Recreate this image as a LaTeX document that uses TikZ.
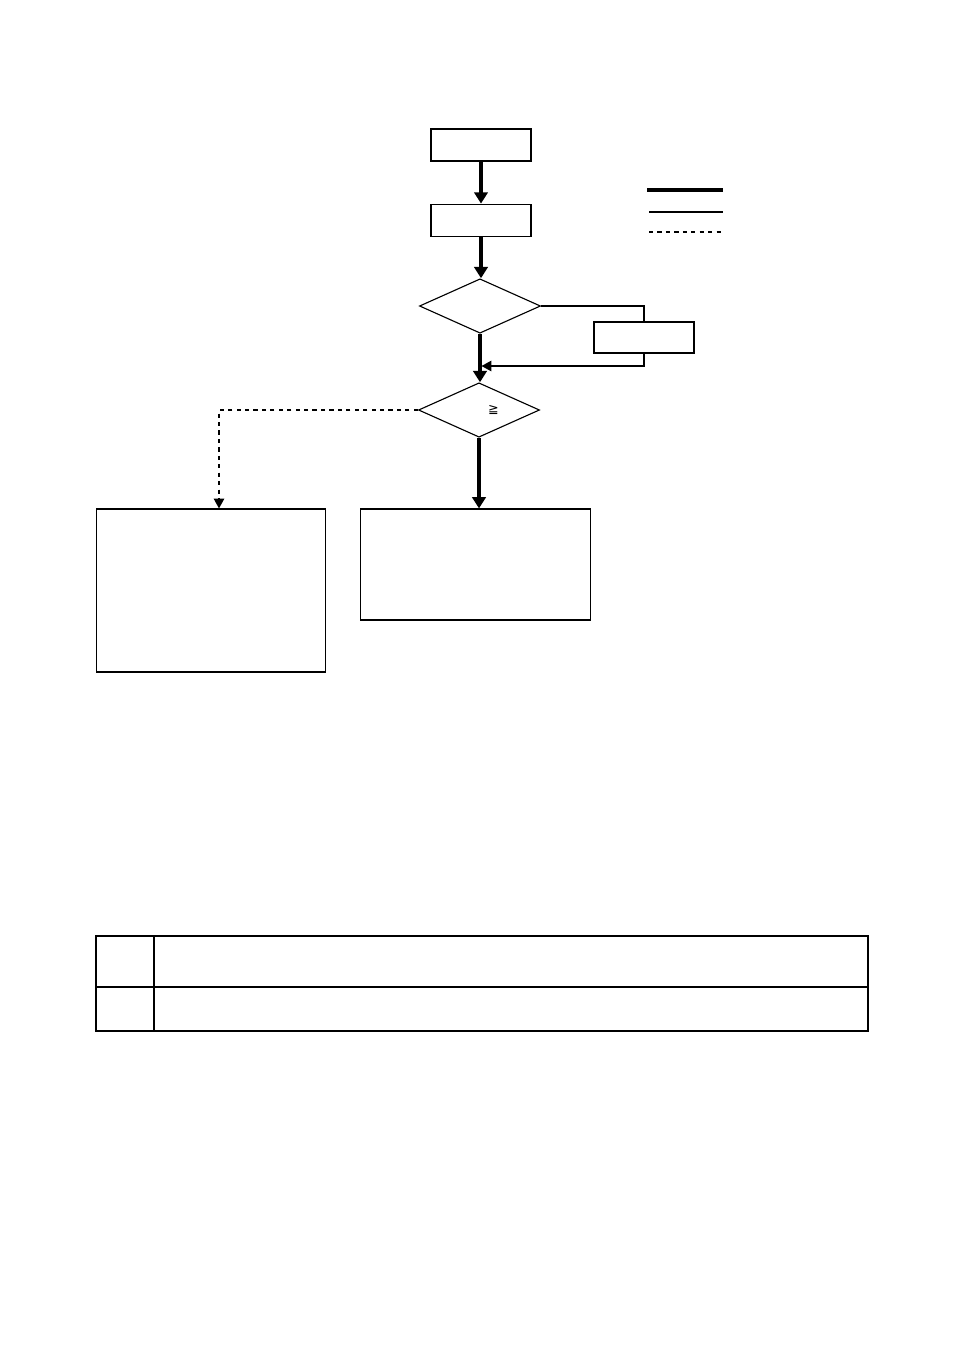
\documentclass[tikz,border=0pt]{standalone}
\usepackage{fontspec}
\newfontfamily\symfont{DejaVu Sans}
\usepackage{tikz}
\usetikzlibrary{positioning,arrows.meta,shapes.geometric}

\begin{document}
\begin{tikzpicture}[
  x=0.025cm, y=-0.025cm,
  node distance=1.05cm,
  stepbox/.style={rectangle, draw=black, line width=0.8pt, minimum width=2.5cm, minimum height=0.8cm, inner sep=0pt},
  decide/.style={diamond, draw=black, line width=0.8pt, minimum width=3.025cm, minimum height=1.36cm, inner sep=0pt},
  bigbox/.style={rectangle, draw=black, line width=0.8pt, minimum width=5.73cm, inner sep=0pt},
  mainarr/.style={-{Triangle[length=8pt, width=9.5pt]}, line width=2.2pt, draw=black},
  subarr/.style={-{Triangle[length=7pt, width=7.5pt]}, line width=0.8pt, draw=black},
  subline/.style={line width=0.8pt, draw=black},
  skiparr/.style={-{Triangle[length=7pt, width=7.5pt]}, line width=0.8pt, dashed, draw=black},
]
\useasboundingbox (0,0) rectangle (954,1350);

% main flow
\node[stepbox] (start) at (481,145) {};
\node[stepbox, below=of start] (prep) {};
\node[decide] (check) at (480,306) {};
\node[decide] (judge) at (479,410) {\hspace*{0.72cm}\symfont\small ≧};
\node[bigbox, minimum height=2.775cm] (resA) at (475.5,564.5) {};
\node[bigbox, minimum height=4.075cm] (resB) at (211,590.5) {};

% side loop
\node[stepbox, minimum height=0.775cm] (fix) at (644,337.5) {};
\coordinate (back) at (check.south |- 0,366);

\draw[mainarr] (start) -- (prep);
\draw[mainarr] (prep.south) -- (prep.south |- check.north);
\draw[mainarr] (check.south) -- (check.south |- judge.north);
\draw[mainarr] (judge.south) -- (judge.south |- resA.north);
\draw[subline] (check.east) -| (fix.north);
\draw[subarr, shorten >=1.1pt] (fix.south) |- (back);
\draw[skiparr] (judge.west) -| ([xshift=0.2cm]resB.north);

% legend
\draw[line width=2.2pt] (647,190) -- (723,190);
\draw[line width=0.8pt] (649,212) -- (723,212);
\draw[line width=0.8pt, dashed] (649,232) -- (723,232);

% table
\draw[line width=0.9pt] (96,987) -- (868,987);
\draw[line width=0.9pt] (154,936) -- (154,1031);
\draw[line width=1.6pt] (96,936) rectangle (868,1031);
\end{tikzpicture}
\end{document}
